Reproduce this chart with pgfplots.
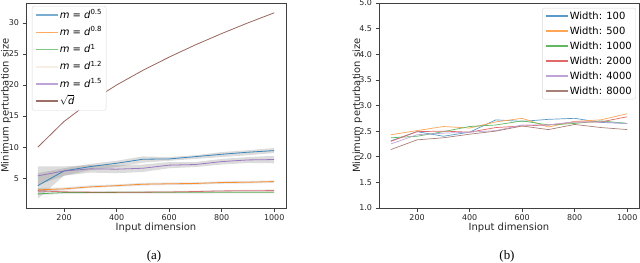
\documentclass[border=0pt]{standalone}
\usepackage{fontspec}
\setmainfont{DejaVu Sans}
\newfontfamily\timesfont{Liberation Serif}
\usepackage{pgfplots}
\pgfplotsset{compat=1.18}
\definecolor{c0}{HTML}{1F77B4}
\definecolor{c1}{HTML}{FF7F0E}
\definecolor{c2}{HTML}{2CA02C}
\definecolor{c3}{HTML}{D62728}
\definecolor{c4}{HTML}{9467BD}
\definecolor{c5}{HTML}{8C564B}
\definecolor{faint}{HTML}{F7EEE6}
\pgfplotsset{
  myaxis/.style={
    scale only axis, width=260bp, height=205bp,
    xmin=55, xmax=1045,
    xtick={200,400,600,800,1000},
    tick pos=left, tick align=outside,
    major tick length=3.5bp,
    axis line style={black!75, line width=0.6bp},
    every tick/.style={black!75, line width=0.6bp},
    /pgf/number format/assume math mode=true,
    /pgf/number format/set thousands separator={},
    ticklabel style={font=\fontsize{8}{9}\selectfont, black!85},
    label style={font=\fontsize{10}{11}\selectfont, black!85},
    xlabel={Input dimension},
    ylabel={Minimum perturbation size},
    xlabel style={at={(axis description cs:0.5,-0.095)}, anchor=center},
    scaled ticks=false,
    legend cell align=left,
    every axis plot/.append style={line width=0.8bp},
  }
}
\begin{document}
\begin{tikzpicture}[x=1bp,y=1bp]
\useasboundingbox (0,0) rectangle (640,262);
% ---------------- (a)
\begin{axis}[myaxis, at={(26bp,54bp)}, anchor=south west,
  ymin=0.2, ymax=33.2, ytick={5,10,15,20,25,30},
  ylabel style={at={(axis description cs:-0.077,0.5)}, anchor=center},
  legend image code/.code={\draw[#1,line width=1.6bp] (0bp,0bp) -- (22bp,0bp);},
  legend style={at={(axis description cs:0.023,0.985)}, anchor=north west,
    draw=black!15, rounded corners=2bp, fill=white,
    font=\fontsize{10}{11}\selectfont,
    nodes={inner sep=1bp, text height=8.5bp, text depth=2.5bp},
    row sep=4.2bp, inner xsep=3bp, inner ysep=2.5bp},
]
% shaded bands
\addplot[fill=gray, fill opacity=0.28, draw=none, forget plot] coordinates {
 (100,5.8) (200,6.6) (300,7.3) (400,7.8) (500,8.5) (600,8.4) (700,8.7) (800,9.2) (900,9.5) (1000,9.85)
 (1000,9.05) (900,8.7) (800,8.4) (700,8.1) (600,7.8) (500,7.5) (400,6.8) (300,6.3) (200,5.4) (100,1.7)} -- cycle;
\addplot[fill=gray, fill opacity=0.28, draw=none, forget plot] coordinates {
 (100,6.9) (200,6.9) (300,7.1) (400,7.1) (500,7.2) (600,7.6) (700,7.6) (800,8.1) (900,8.4) (1000,8.6)
 (1000,7.4) (900,7.45) (800,7.2) (700,6.8) (600,6.6) (500,6.0) (400,5.8) (300,5.9) (200,5.4) (100,3.9)} -- cycle;
\addplot[fill=gray, fill opacity=0.22, draw=none, forget plot] coordinates {
 (100,3.4) (200,3.5) (300,3.85) (400,4.0) (500,4.25) (600,4.3) (700,4.35) (800,4.5) (900,4.55) (1000,4.65)
 (1000,4.25) (900,4.15) (800,4.1) (700,3.95) (600,3.9) (500,3.8) (400,3.6) (300,3.45) (200,3.05) (100,2.8)} -- cycle;
\addplot[fill=gray, fill opacity=0.18, draw=none, forget plot] coordinates {
 (100,3.2) (200,3.0) (300,2.95) (400,2.95) (500,2.95) (600,2.95) (700,3.0) (800,3.1) (900,3.15) (1000,3.2)
 (1000,2.55) (900,2.55) (800,2.55) (700,2.5) (600,2.5) (500,2.5) (400,2.5) (300,2.5) (200,2.45) (100,2.25)} -- cycle;
% lines
\addplot[c0, opacity=0.85, forget plot] coordinates {
 (100,3.8) (200,6.17) (300,6.87) (400,7.4) (500,8.05) (600,8.1) (700,8.47) (800,8.85) (900,9.18) (1000,9.44)};
\addplot[c1, opacity=0.85, forget plot] coordinates {
 (100,3.12) (200,3.28) (300,3.6) (400,3.8) (500,4.03) (600,4.1) (700,4.15) (800,4.3) (900,4.35) (1000,4.46)};
\addplot[c2, opacity=0.75, forget plot] coordinates {
 (100,2.47) (200,2.69) (300,2.7) (400,2.72) (500,2.72) (600,2.73) (700,2.74) (800,2.75) (900,2.75) (1000,2.75)};
\addplot[c3, opacity=0.6, forget plot] coordinates {
 (100,2.96) (200,2.8) (300,2.75) (400,2.75) (500,2.75) (600,2.78) (700,2.85) (800,2.95) (900,2.98) (1000,3.0)};
\addplot[c4, opacity=0.85, forget plot] coordinates {
 (100,5.37) (200,6.17) (300,6.5) (400,6.45) (500,6.6) (600,7.1) (700,7.2) (800,7.67) (900,7.94) (1000,8.0)};
\addplot[c5, opacity=0.9, forget plot] coordinates {
 (100,10) (200,14.14) (300,17.32) (400,20) (500,22.36) (600,24.49) (700,26.46) (800,28.28) (900,30) (1000,31.62)};
\addlegendimage{c0!60}\addlegendentry{\textit{m} = \textit{d}\textsuperscript{0.5}}
\addlegendimage{c1!65}\addlegendentry{\textit{m} = \textit{d}\textsuperscript{0.8}}
\addlegendimage{c2!60}\addlegendentry{\textit{m} = \textit{d}\textsuperscript{1}}
\addlegendimage{faint}\addlegendentry{\textit{m} = \textit{d}\textsuperscript{1.2}}
\addlegendimage{c4!60}\addlegendentry{\textit{m} = \textit{d}\textsuperscript{1.5}}
\addlegendimage{c5!85}\addlegendentry{\smash{$\sqrt{\textit{d}}$}}
\end{axis}
% ---------------- (b)
\begin{axis}[myaxis, at={(379bp,54bp)}, anchor=south west,
  ymin=1, ymax=5, ytick={1,1.5,2,2.5,3,3.5,4,4.5,5},
  yticklabel style={/pgf/number format/.cd, fixed, fixed zerofill, precision=1},
  ylabel style={at={(axis description cs:-0.083,0.5)}, anchor=center},
  legend image code/.code={\draw[#1,line width=1.4bp] (0bp,0bp) -- (22bp,0bp);},
  legend style={at={(axis description cs:0.988,0.976)}, anchor=north east,
    draw=black!15, rounded corners=2bp, fill=white,
    font=\fontsize{10}{11}\selectfont,
    nodes={inner sep=1bp, text height=8bp, text depth=2bp},
    row sep=3bp, inner xsep=3bp, inner ysep=2bp},
  every axis plot/.append style={line width=0.7bp},
]
\addplot[c0!75] coordinates {
 (100,2.31) (200,2.49) (300,2.40) (400,2.48) (500,2.72) (600,2.69) (700,2.73) (800,2.75) (900,2.67) (1000,2.65)};
\addlegendentry{Width: 100}
\addplot[c1!70] coordinates {
 (100,2.43) (200,2.51) (300,2.59) (400,2.56) (500,2.68) (600,2.75) (700,2.58) (800,2.69) (900,2.72) (1000,2.84)};
\addlegendentry{Width: 500}
\addplot[c2!75] coordinates {
 (100,2.37) (200,2.40) (300,2.49) (400,2.59) (500,2.62) (600,2.70) (700,2.62) (800,2.65) (900,2.70) (1000,2.65)};
\addlegendentry{Width: 1000}
\addplot[c3!70] coordinates {
 (100,2.30) (200,2.49) (300,2.50) (400,2.48) (500,2.57) (600,2.60) (700,2.62) (800,2.68) (900,2.68) (1000,2.78)};
\addlegendentry{Width: 2000}
\addplot[c4!60] coordinates {
 (100,2.25) (200,2.43) (300,2.46) (400,2.48) (500,2.51) (600,2.62) (700,2.62) (800,2.68) (900,2.68) (1000,2.65)};
\addlegendentry{Width: 4000}
\addplot[c5!75] coordinates {
 (100,2.14) (200,2.33) (300,2.37) (400,2.44) (500,2.50) (600,2.60) (700,2.53) (800,2.63) (900,2.57) (1000,2.53)};
\addlegendentry{Width: 8000}
\end{axis}
\node[font=\timesfont\fontsize{13}{15}\selectfont, anchor=base] at (154,3) {(a)};
\node[font=\timesfont\fontsize{13}{15}\selectfont, anchor=base] at (507,3) {(b)};
\end{tikzpicture}
\end{document}
